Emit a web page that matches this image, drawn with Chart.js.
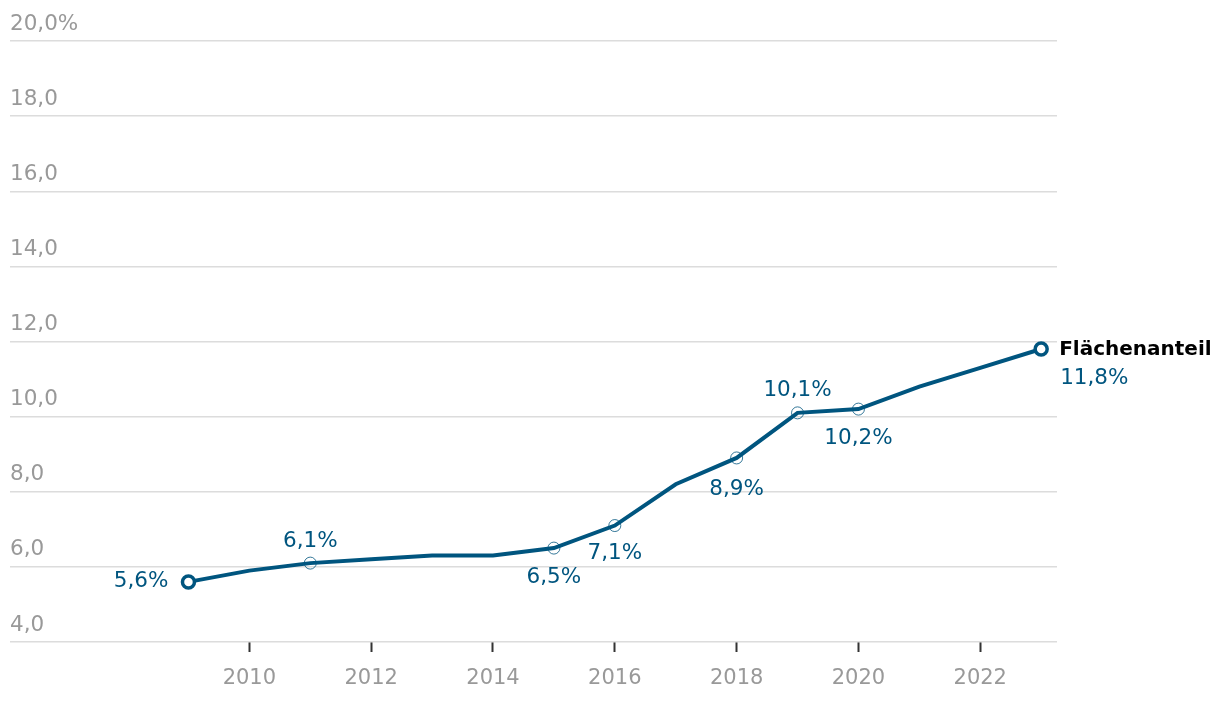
<!DOCTYPE html>
<html>
<head>
<meta charset="utf-8">
<script src="https://cdn.jsdelivr.net/npm/chart.js@4"></script>
<style>
  html, body { margin: 0; padding: 0; background: #fff; }
  #wrap { width: 1220px; height: 702px; }
</style>
</head>
<body>
<div id="wrap"><canvas id="chart" width="1220" height="702"></canvas></div>
<script>
const years = [2009, 2010, 2011, 2012, 2013, 2014, 2015, 2016, 2017, 2018, 2019, 2020, 2021, 2022, 2023];
const share = [5.6, 5.9, 6.1, 6.2, 6.3, 6.3, 6.5, 7.1, 8.2, 8.9, 10.1, 10.2, 10.8, 11.3, 11.8];
const labelledYears = [2009, 2011, 2015, 2016, 2018, 2019, 2020, 2023];
const xTicks = [2010, 2012, 2014, 2016, 2018, 2020, 2022];
const seriesName = 'Flächenanteil';

const blue = '#00557f';
const grey = '#999999';
const font = '"DejaVu Sans", sans-serif';

// where each value label sits relative to its point
const placement = {
    2009: { dx: -20, dy: 0, align: 'right' },
    2011: { dx: 0, dy: -22, align: 'center' },
    2015: { dx: 0, dy: 29, align: 'center' },
    2016: { dx: 0, dy: 28, align: 'center' },
    2018: { dx: 0, dy: 31, align: 'center' },
    2019: { dx: 0, dy: -22, align: 'center' },
    2020: { dx: 0, dy: 29, align: 'center' },
    2023: { dx: 19, dy: 29, align: 'left' }
};

function fmt(v) {
    return v.toFixed(1).replace('.', ',');
}

const isEnd = i => i === 0 || i === years.length - 1;
const isLabelled = i => labelledYears.includes(years[i]);

const valueLabels = {
    id: 'valueLabels',
    afterDatasetsDraw(chart) {
        const ctx = chart.ctx;
        const meta = chart.getDatasetMeta(0);
        ctx.save();
        ctx.textBaseline = 'middle';
        meta.data.forEach((pt, i) => {
            const p = placement[years[i]];
            if (!p) return;
            ctx.fillStyle = blue;
            ctx.font = '21.5px ' + font;
            ctx.textAlign = p.align;
            ctx.fillText(fmt(share[i]) + '%', pt.x + p.dx, pt.y + p.dy);
        });
        const last = meta.data[meta.data.length - 1];
        ctx.fillStyle = '#000';
        ctx.font = 'bold 20px ' + font;
        ctx.textAlign = 'left';
        ctx.fillText(seriesName, last.x + 18, last.y + 1);
        ctx.restore();
    }
};

new Chart(document.getElementById('chart'), {
    type: 'line',
    data: {
        datasets: [{
            label: seriesName,
            data: years.map((y, i) => ({ x: y, y: share[i] })),
            borderColor: blue,
            borderWidth: 4,
            tension: 0,
            pointBackgroundColor: ctx => isEnd(ctx.dataIndex) ? '#fff' : 'rgba(255,255,255,0)',
            pointBorderColor: blue,
            pointRadius: ctx => isLabelled(ctx.dataIndex) ? 6 : 0,
            pointBorderWidth: ctx => isEnd(ctx.dataIndex) ? 3.5 : 0.8,
            pointHoverRadius: 0
        }]
    },
    options: {
        responsive: false,
        animation: false,
        layout: { padding: { left: 10, right: 163, top: 41, bottom: 0 } },
        scales: {
            x: {
                type: 'linear',
                min: 2006.07,
                max: 2023.26,
                afterBuildTicks: scale => { scale.ticks = xTicks.map(v => ({ value: v })); },
                afterFit: scale => { scale.height = 60; },
                border: { display: false },
                grid: {
                    drawOnChartArea: false,
                    drawTicks: true,
                    tickLength: 10,
                    tickWidth: 2,
                    tickColor: '#333'
                },
                ticks: {
                    color: grey,
                    font: { family: font, size: 21 },
                    padding: 14,
                    callback: v => String(v)
                }
            },
            y: {
                min: 4,
                max: 20,
                afterFit: scale => { scale.width = 0; },
                border: { display: false },
                grid: { color: '#dcdcdc', lineWidth: 1.5, drawTicks: false },
                ticks: {
                    stepSize: 2,
                    mirror: true,
                    padding: 0,
                    labelOffset: -17,
                    color: grey,
                    font: { family: font, size: 21.5 },
                    callback: v => v === 20 ? fmt(v) + '%' : fmt(v)
                }
            }
        },
        plugins: {
            legend: false,
            tooltip: { enabled: false }
        }
    },
    plugins: [valueLabels]
});
</script>
</body>
</html>
